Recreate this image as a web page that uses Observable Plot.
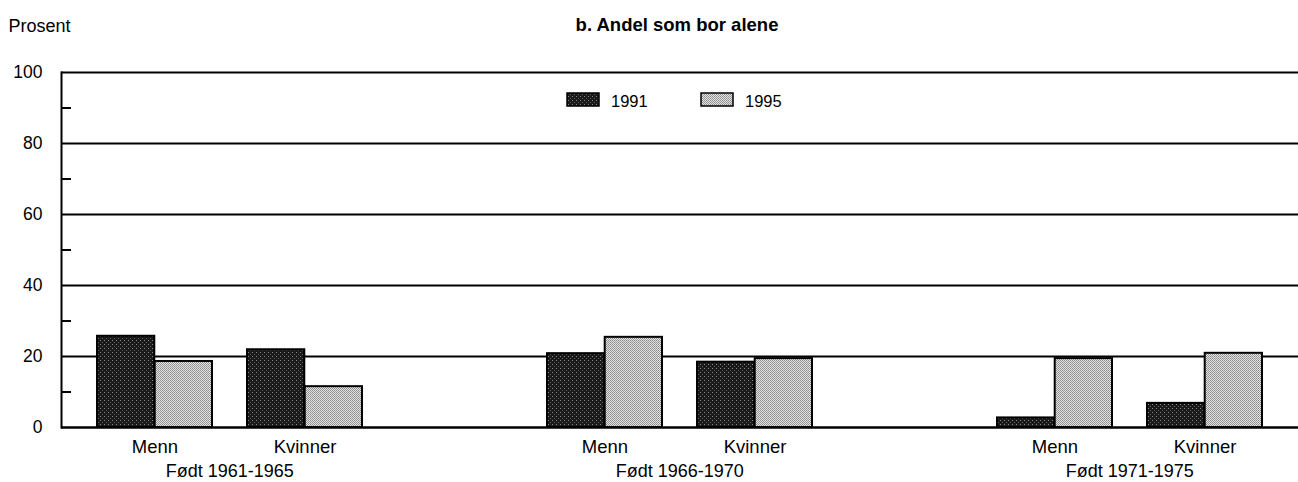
<!DOCTYPE html>
<html><head><meta charset="utf-8">
<script src="https://cdn.jsdelivr.net/npm/d3@7"></script>
<script src="https://cdn.jsdelivr.net/npm/@observablehq/plot@0.6"></script>
<style>body{margin:0;background:#fff} #chart{width:1298px;height:482px}</style>
</head><body><div id="chart"></div>
<script>
const cohorts = ["1961-1965", "1966-1970", "1971-1975"];
const sexes = ["Menn", "Kvinner"];
const years = ["1991", "1995"];
// order: 1961-65 Menn, Kvinner, 1966-70 Menn, Kvinner, 1971-75 Menn, Kvinner
const values1991 = [25.7, 21.9, 20.8, 18.4, 2.7, 6.8];
const values1995 = [18.6, 11.5, 25.4, 19.4, 19.4, 20.9];
const yTicks = [0, 20, 40, 60, 80, 100];
const yMinorTicks = [10, 30, 50, 70, 90];
const title = "b. Andel som bor alene";
const yLabel = "Prosent";
const cohortPrefix = "Født ";

const W = 1298, H = 482, ML = 61, MR = 0, MT = 72, MB = 55;
const padIn = 0.233, padOut = 0.226;

// detect whether a narrow sans is installed
function hasFont(name) {
  const c = document.createElement("canvas").getContext("2d");
  const s = "Født 1961-1965 Kvinner";
  c.font = "40px monospace"; const a = c.measureText(s).width;
  c.font = `40px '${name}', monospace`; const b = c.measureText(s).width;
  return Math.abs(a - b) > 1;
}
const narrow = hasFont("Liberation Sans Narrow");
const font = narrow ? "'Liberation Sans Narrow', 'Arial Narrow', sans-serif" : "'Liberation Sans', Arial, Helvetica, sans-serif";
const fs = narrow
  ? {tick: 21, xlab: 22, cohort: 21.5, title: 22, ylab: 21, legend: 20}
  : {tick: 17.5, xlab: 18.5, cohort: 18, title: 18.5, ylab: 18, legend: 16.5};

const key = (c, s) => c + "|" + s;
const rows = [];
cohorts.forEach((c, i) => sexes.forEach((s, j) => {
  const k = i * sexes.length + j;
  rows.push({cohort: c, sex: s, key: key(c, s), v1991: values1991[k], v1995: values1995[k]});
}));
const realKeys = rows.map(d => d.key);
const xDomain = [];
cohorts.forEach((c, i) => { if (i > 0) xDomain.push("gap" + i); sexes.forEach(s => xDomain.push(key(c, s))); });

const n = xDomain.length;
const step = (W - ML - MR) / (n - padIn + 2 * padOut);
const bw = step * (1 - padIn);
const half = bw / 2;

const plot = Plot.plot({
  width: W, height: H,
  marginLeft: ML, marginRight: MR, marginTop: MT, marginBottom: MB,
  style: {fontFamily: font, fontSize: fs.tick + "px", color: "black", background: "white"},
  x: {type: "band", domain: xDomain, paddingInner: padIn, paddingOuter: padOut},
  y: {domain: [0, 100]},
  marks: [
    Plot.ruleY(yTicks.filter(t => t > 0), {stroke: "black", strokeWidth: 2}),
    Plot.barY(rows, {x: "key", y: "v1991", fill: "url(#pat1991)", stroke: "black", strokeWidth: 2, insetRight: half}),
    Plot.barY(rows, {x: "key", y: "v1995", fill: "url(#pat1995)", stroke: "black", strokeWidth: 2, insetLeft: half}),
    Plot.ruleY([0], {stroke: "black", strokeWidth: 2.5}),
    Plot.frame({anchor: "left", stroke: "black", strokeWidth: 2}),
    Plot.axisY(yTicks, {anchor: "left", tickSize: 0, tickPadding: 19, fontSize: fs.tick, label: null}),
    Plot.axisY(yMinorTicks, {anchor: "left", tickSize: -10, strokeWidth: 2, text: null, label: null}),
    Plot.axisX(realKeys, {anchor: "bottom", tickSize: 0, tickPadding: 12, fontSize: fs.xlab, label: null, tickFormat: k => k.split("|")[1]}),
    Plot.text(cohorts, {x: c => key(c, "Kvinner"), dx: -step / 2, text: c => cohortPrefix + c, frameAnchor: "bottom", dy: 49, lineAnchor: "bottom", fontSize: fs.cohort}),
    Plot.text([yLabel], {frameAnchor: "top-left", dx: -53, dy: -41, textAnchor: "start", lineAnchor: "bottom", fontSize: fs.ylab}),
    Plot.text([title], {frameAnchor: "top", dx: -3, dy: -42, lineAnchor: "bottom", fontSize: fs.title, fontWeight: "bold"})
  ]
});

const svg = d3.select(plot);
const defs = svg.insert("defs", ":first-child");
const p1 = defs.append("pattern").attr("id", "pat1991").attr("patternUnits", "userSpaceOnUse").attr("width", 4).attr("height", 4);
p1.append("rect").attr("width", 4).attr("height", 4).attr("fill", "#1a1a1a");
p1.append("rect").attr("x", 0).attr("y", 0).attr("width", 1).attr("height", 1).attr("fill", "#8a8a8a");
p1.append("rect").attr("x", 2).attr("y", 2).attr("width", 1).attr("height", 1).attr("fill", "#5e5e5e");
const p2 = defs.append("pattern").attr("id", "pat1995").attr("patternUnits", "userSpaceOnUse").attr("width", 2).attr("height", 2);
p2.append("rect").attr("width", 2).attr("height", 2).attr("fill", "#e4e4e4");
p2.append("rect").attr("x", 0).attr("y", 0).attr("width", 1).attr("height", 1).attr("fill", "#8a8a8a");
p2.append("rect").attr("x", 1).attr("y", 1).attr("width", 1).attr("height", 1).attr("fill", "#999999");

// legend
const leg = svg.append("g").attr("font-family", font).attr("font-size", fs.legend).attr("text-anchor", "start");
const legItems = [{year: years[0], fill: "url(#pat1991)", x: 567}, {year: years[1], fill: "url(#pat1995)", x: 701}];
legItems.forEach(it => {
  leg.append("rect").attr("x", it.x).attr("y", 93).attr("width", 32).attr("height", 13)
    .attr("fill", it.fill).attr("stroke", "black").attr("stroke-width", 1.5);
  leg.append("text").attr("x", it.x + 44).attr("y", 107).attr("fill", "black").attr("text-anchor", "start").text(it.year);
});

document.getElementById("chart").appendChild(plot);
</script>
</body></html>
